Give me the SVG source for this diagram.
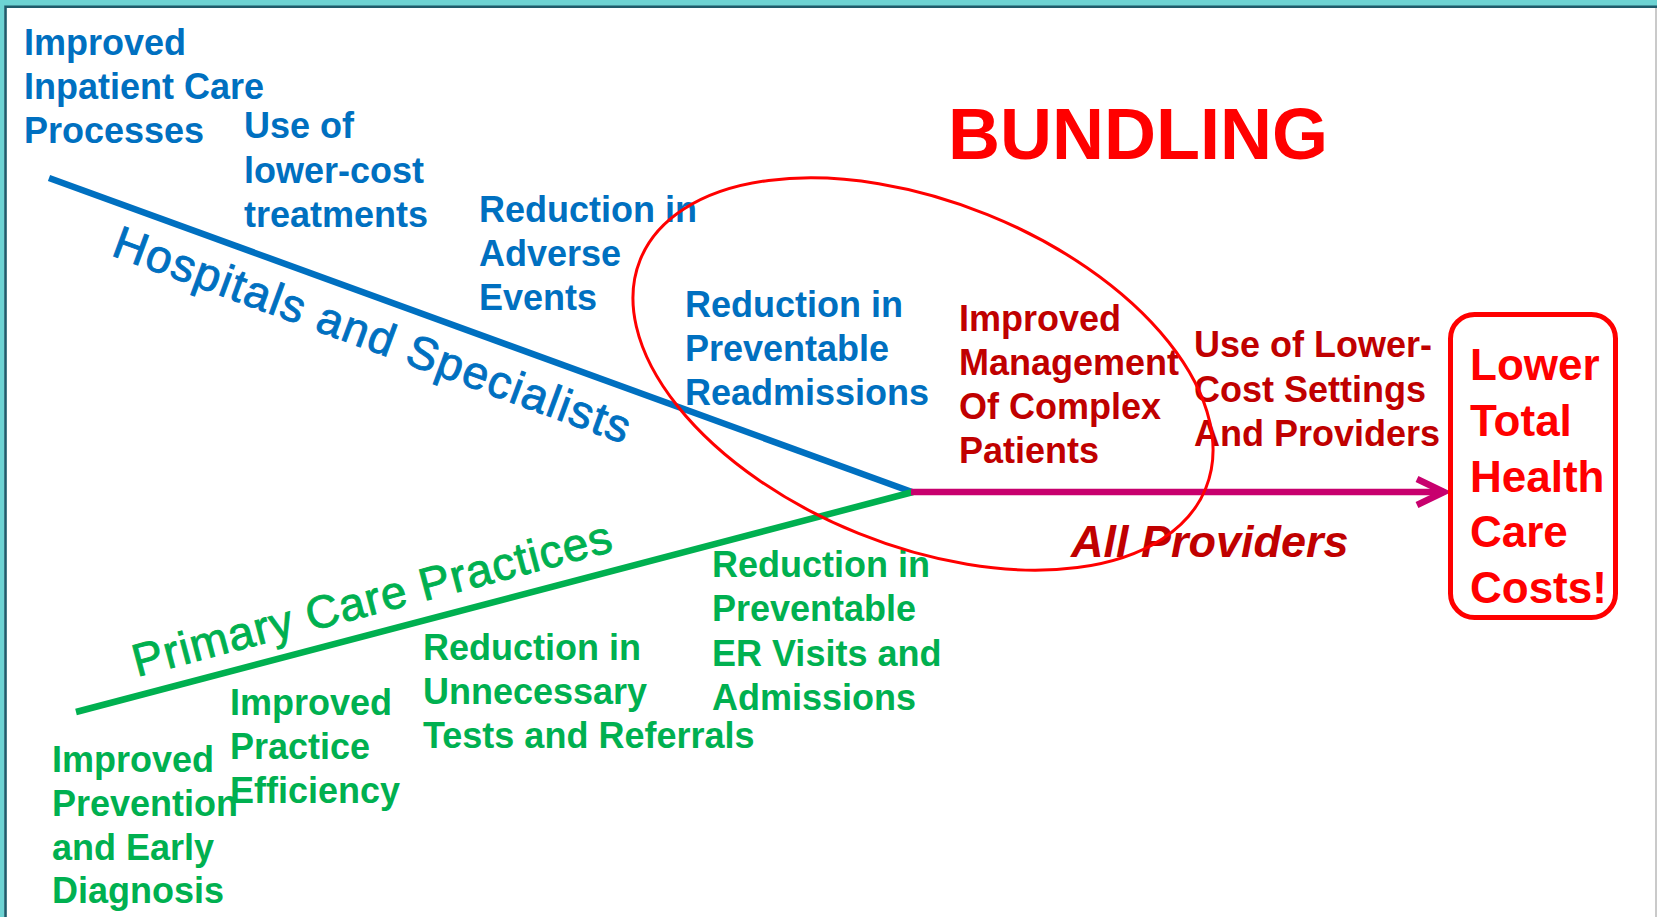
<svg xmlns="http://www.w3.org/2000/svg" width="1657" height="917" viewBox="0 0 1657 917">
  <style>
    text { font-family: "Liberation Sans", Arial, sans-serif; }
    .lbl { font-size: 36px; font-weight: bold; }
    .blue { fill: #0070C0; }
    .dred { fill: #C00000; }
    .green { fill: #00B050; }
    .red { fill: #FF0000; }
    .branch { font-size: 46px; font-weight: normal; stroke-width: 0.9; }
    .spine { fill: none; stroke-width: 6.5; stroke-linecap: butt; }
  </style>
  <defs>
    <marker id="chevron" markerUnits="userSpaceOnUse" markerWidth="40" markerHeight="40" viewBox="-34 -20 40 40" refX="0" refY="0" orient="auto">
      <polyline points="-27,-13 0,0 -27,13" fill="none" stroke="#C8006E" stroke-width="6.5" stroke-linejoin="miter"/>
    </marker>
  </defs>

  <!-- page frame -->
  <rect x="0" y="0" width="1657" height="917" fill="#FFFFFF"/>
  <rect x="0" y="0" width="1657" height="6" fill="#6DD3D3"/>
  <rect x="0" y="0" width="4.5" height="917" fill="#6DD3D3"/>
  <path d="M5.5,917 V6.8 H1657" fill="none" stroke="#1F5B6B" stroke-width="2.6"/>
  <line x1="1656" y1="8" x2="1656" y2="917" stroke="#B8B8B8" stroke-width="1.5"/>

  <!-- spines of the fishbone -->
  <g id="connectors">
    <line class="spine" x1="49" y1="178" x2="912" y2="492" stroke="#0070C0"/>
    <line class="spine" x1="76" y1="712" x2="913" y2="492" stroke="#00B050"/>
    <line class="spine" x1="911" y1="492" x2="1444" y2="492" stroke="#C8006E" marker-end="url(#chevron)"/>
  </g>

  <g id="hospitals-branch">
    <text class="branch blue" stroke="#0070C0" transform="translate(110,255) rotate(20.2)" letter-spacing="1.5">Hospitals and Specialists</text>
  </g>
  <g id="primary-care-branch">
    <text class="branch green" stroke="#00B050" transform="translate(137,677) rotate(-14.8)" letter-spacing="1">Primary Care Practices</text>
  </g>

  <!-- hospital-side levers -->
  <g id="improved-inpatient">
    <text class="lbl blue" x="24" y="55">Improved<tspan x="24" dy="44">Inpatient Care</tspan><tspan x="24" dy="44">Processes</tspan></text>
  </g>
  <g id="lower-cost-treatments">
    <text class="lbl blue" x="244" y="138">Use of<tspan x="244" dy="44.5">lower-cost</tspan><tspan x="244" dy="44.5">treatments</tspan></text>
  </g>
  <g id="adverse-events">
    <text class="lbl blue" x="479" y="222">Reduction in<tspan x="479" dy="44">Adverse</tspan><tspan x="479" dy="44">Events</tspan></text>
  </g>
  <g id="preventable-readmissions">
    <text class="lbl blue" x="685" y="317">Reduction in<tspan x="685" dy="44">Preventable</tspan><tspan x="685" dy="44">Readmissions</tspan></text>
  </g>

  <!-- all-provider levers -->
  <g id="complex-patients">
    <text class="lbl dred" x="959" y="331">Improved<tspan x="959" dy="44">Management</tspan><tspan x="959" dy="44">Of Complex</tspan><tspan x="959" dy="44">Patients</tspan></text>
  </g>
  <g id="lower-cost-settings">
    <text class="lbl dred" x="1194" y="357">Use of Lower-<tspan x="1194" dy="44.5">Cost Settings</tspan><tspan x="1194" dy="44.5">And Providers</tspan></text>
  </g>
  <g id="all-providers">
    <text x="1071" y="557" font-size="45" font-weight="bold" font-style="italic" class="dred">All Providers</text>
  </g>

  <!-- primary-care levers -->
  <g id="prevention">
    <text class="lbl green" x="52" y="772">Improved<tspan x="52" dy="44">Prevention</tspan><tspan x="52" dy="43.5">and Early</tspan><tspan x="52" dy="43.5">Diagnosis</tspan></text>
  </g>
  <g id="practice-efficiency">
    <text class="lbl green" x="230" y="715">Improved<tspan x="230" dy="44">Practice</tspan><tspan x="230" dy="44">Efficiency</tspan></text>
  </g>
  <g id="unnecessary-tests">
    <text class="lbl green" x="423" y="660">Reduction in<tspan x="423" dy="44">Unnecessary</tspan><tspan x="423" dy="44">Tests and Referrals</tspan></text>
  </g>
  <g id="preventable-er">
    <text class="lbl green" x="712" y="577">Reduction in<tspan x="712" dy="44">Preventable</tspan><tspan x="712" dy="44.5">ER Visits and</tspan><tspan x="712" dy="44">Admissions</tspan></text>
  </g>

  <!-- bundling scope -->
  <g id="bundling">
    <text x="948" y="159" font-size="72" font-weight="bold" class="red">BUNDLING</text>
    <ellipse cx="923" cy="374" rx="305" ry="172" transform="rotate(22 923 374)" fill="none" stroke="#FF0000" stroke-width="3"/>
  </g>

  <!-- outcome -->
  <g id="total-costs">
    <rect x="1450.5" y="314.5" width="165" height="303" rx="24" ry="24" fill="none" stroke="#FF0000" stroke-width="5"/>
    <text class="red" x="1470" y="380" font-size="44" font-weight="bold">Lower<tspan x="1470" dy="55.5">Total</tspan><tspan x="1470" dy="56">Health</tspan><tspan x="1470" dy="55.5">Care</tspan><tspan x="1470" dy="55.5">Costs!</tspan></text>
  </g>
</svg>
